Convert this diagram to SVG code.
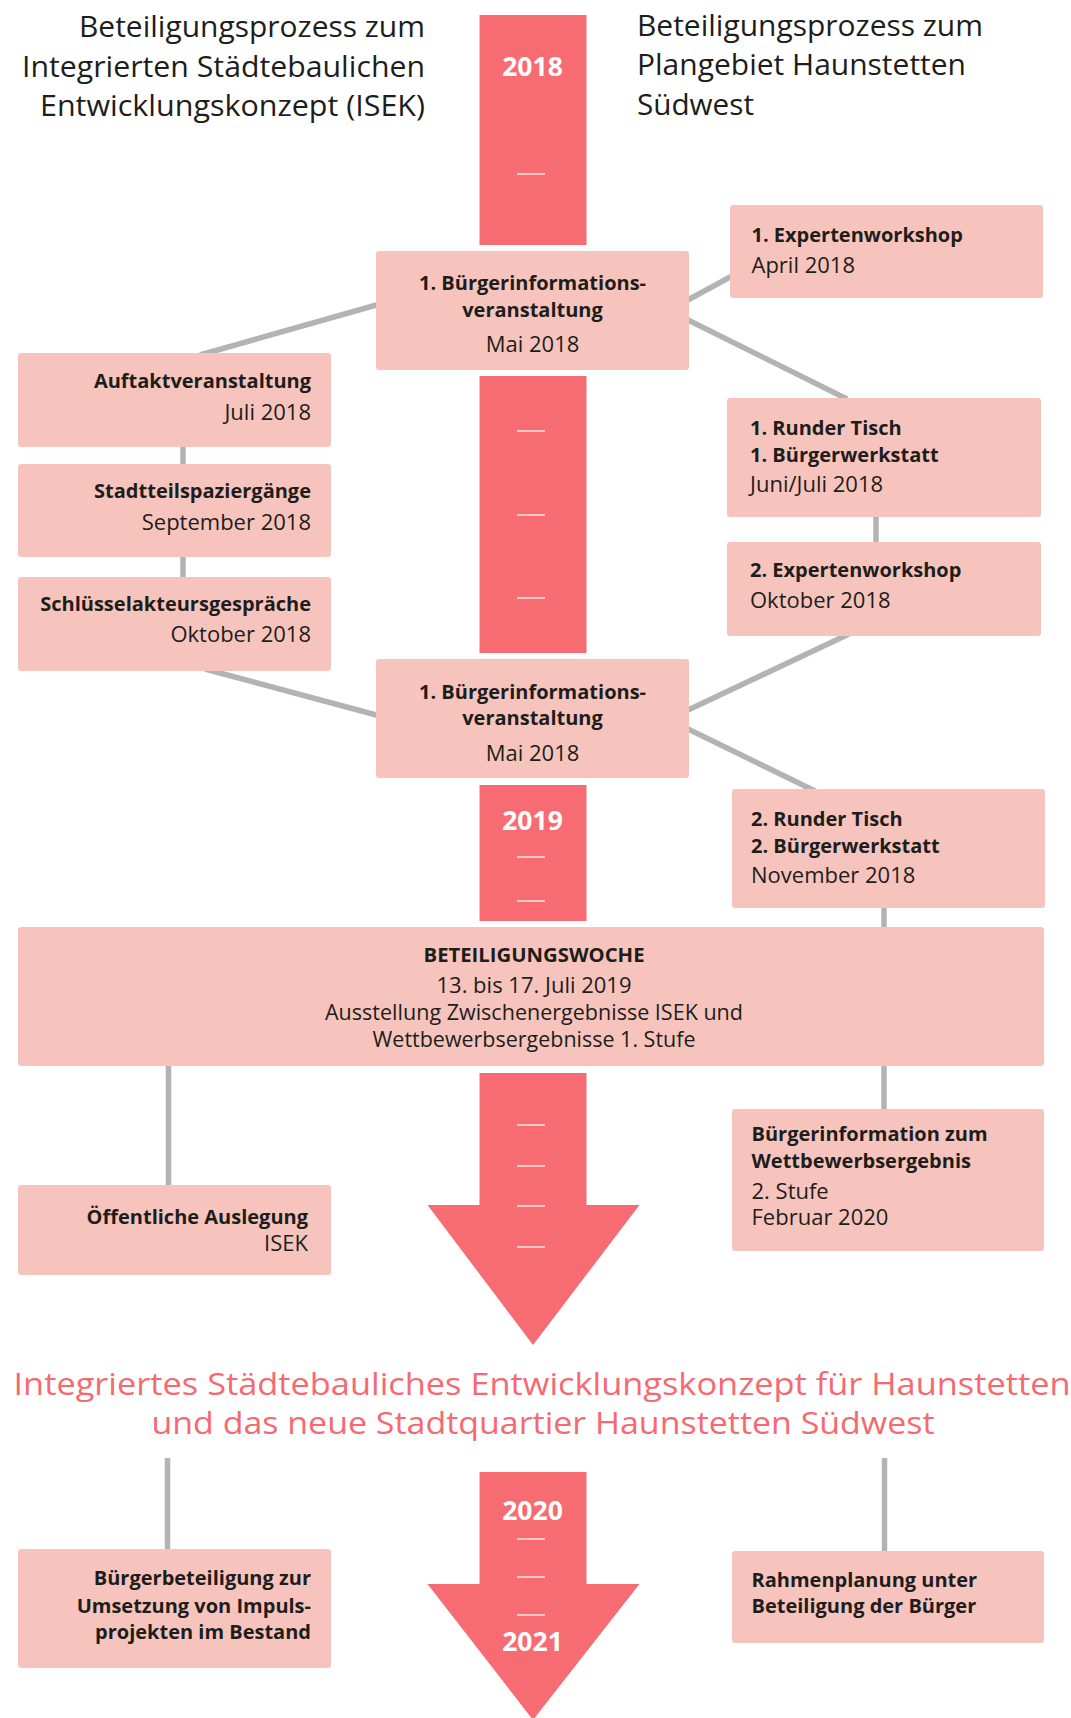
<svg xmlns="http://www.w3.org/2000/svg" width="1071" height="1718" viewBox="0 0 1071 1718">
<style>
.bg{fill:#ffffff}
.box{fill:#F7C4BD}
.bar{fill:#F76C72}
.tick{stroke:#ffffff;stroke-width:1.5;opacity:0.85}
.con{stroke:#B3B3B3;stroke-width:5.5;fill:none}
text{font-family:"Open Sans","Noto Sans","Liberation Sans",sans-serif;fill:#1D1D1B}
.h{font-size:29px}
.b{font-size:20px;font-weight:bold}
.r{font-size:22px}
.yr{font-size:26.5px;font-weight:bold;fill:#ffffff}
.t{font-size:31px;fill:#F56A70}
.m{text-anchor:middle}
.e{text-anchor:end}
</style>
<rect class="bg" x="0" y="0" width="1071" height="1718"/>

<g id="headers">
<text class="h e" x="425" y="37" textLength="346" lengthAdjust="spacingAndGlyphs">Beteiligungsprozess zum</text>
<text class="h e" x="425" y="77" textLength="403" lengthAdjust="spacingAndGlyphs">Integrierten Städtebaulichen</text>
<text class="h e" x="425" y="116" textLength="385" lengthAdjust="spacingAndGlyphs">Entwicklungskonzept (ISEK)</text>
<text class="h" x="637" y="36" textLength="346" lengthAdjust="spacingAndGlyphs">Beteiligungsprozess zum</text>
<text class="h" x="637" y="75" textLength="329" lengthAdjust="spacingAndGlyphs">Plangebiet Haunstetten</text>
<text class="h" x="637" y="115" textLength="117" lengthAdjust="spacingAndGlyphs">Südwest</text>
</g>

<g id="timeline">
<rect class="bar" x="479.5" y="15" width="107" height="230"/>
<text class="yr m" x="532.5" y="76">2018</text>
<line class="tick" x1="517" y1="174" x2="545" y2="174"/>
<rect class="bar" x="479.5" y="376" width="107" height="277"/>
<line class="tick" x1="517" y1="431" x2="545" y2="431"/>
<line class="tick" x1="517" y1="515" x2="545" y2="515"/>
<line class="tick" x1="517" y1="598" x2="545" y2="598"/>
<rect class="bar" x="479.5" y="785" width="107" height="136"/>
<text class="yr m" x="532.5" y="830">2019</text>
<line class="tick" x1="517" y1="857" x2="545" y2="857"/>
<line class="tick" x1="517" y1="901" x2="545" y2="901"/>
<polygon class="bar" points="479.5,1073 586.5,1073 586.5,1205 639.5,1205 533,1345 427.5,1205 479.5,1205"/>
<line class="tick" x1="517" y1="1125" x2="545" y2="1125"/>
<line class="tick" x1="517" y1="1166" x2="545" y2="1166"/>
<line class="tick" x1="517" y1="1206" x2="545" y2="1206"/>
<line class="tick" x1="517" y1="1247" x2="545" y2="1247"/>
<polygon class="bar" points="479.5,1472 586.5,1472 586.5,1584 639.5,1584 533,1720 427.5,1584 479.5,1584"/>
<text class="yr m" x="532.5" y="1520">2020</text>
<line class="tick" x1="517" y1="1539" x2="545" y2="1539"/>
<line class="tick" x1="517" y1="1577" x2="545" y2="1577"/>
<line class="tick" x1="517" y1="1615" x2="545" y2="1615"/>
<text class="yr m" x="532.5" y="1651">2021</text>
</g>

<g id="connectors">
<line class="con" x1="380" y1="304" x2="200" y2="355"/>
<line class="con" x1="686" y1="301" x2="732" y2="276"/>
<line class="con" x1="686" y1="319" x2="847" y2="399"/>
<line class="con" x1="183" y1="445" x2="183" y2="466"/>
<line class="con" x1="183" y1="555" x2="183" y2="579"/>
<line class="con" x1="205" y1="669" x2="380" y2="716"/>
<line class="con" x1="876" y1="515" x2="876" y2="544"/>
<line class="con" x1="849" y1="634" x2="686" y2="711"/>
<line class="con" x1="686" y1="728" x2="815" y2="791"/>
<line class="con" x1="884" y1="906" x2="884" y2="929"/>
<line class="con" x1="884" y1="1064" x2="884" y2="1111"/>
<line class="con" x1="168.5" y1="1064" x2="168.5" y2="1187"/>
<line class="con" x1="167.5" y1="1458" x2="167.5" y2="1551"/>
<line class="con" x1="884.5" y1="1458" x2="884.5" y2="1553"/>
</g>

<g id="buergerinfo1">
<rect class="box" x="376" y="251" width="313" height="119" rx="3"/>
<text class="b m" x="532.5" y="290">1. Bürgerinformations-</text>
<text class="b m" x="532.5" y="317">veranstaltung</text>
<text class="r m" x="532.5" y="352">Mai 2018</text>
</g>
<g id="expertenworkshop1">
<rect class="box" x="730" y="205" width="313" height="93" rx="3"/>
<text class="b" x="751.5" y="242">1. Expertenworkshop</text>
<text class="r" x="751.5" y="273">April 2018</text>
</g>
<g id="auftakt">
<rect class="box" x="18" y="353" width="313" height="94" rx="3"/>
<text class="b e" x="311" y="388">Auftaktveranstaltung</text>
<text class="r e" x="311" y="420">Juli 2018</text>
</g>
<g id="stadtteil">
<rect class="box" x="18" y="464" width="313" height="93" rx="3"/>
<text class="b e" x="311" y="498">Stadtteilspaziergänge</text>
<text class="r e" x="311" y="530">September 2018</text>
</g>
<g id="schluessel">
<rect class="box" x="18" y="577" width="313" height="94" rx="3"/>
<text class="b e" x="311" y="611">Schlüsselakteursgespräche</text>
<text class="r e" x="311" y="642">Oktober 2018</text>
</g>
<g id="rundertisch1">
<rect class="box" x="727" y="398" width="314" height="119" rx="3"/>
<text class="b" x="750" y="435">1. Runder Tisch</text>
<text class="b" x="750" y="462">1. Bürgerwerkstatt</text>
<text class="r" x="750" y="492">Juni/Juli 2018</text>
</g>
<g id="expertenworkshop2">
<rect class="box" x="727" y="542" width="314" height="94" rx="3"/>
<text class="b" x="750" y="577">2. Expertenworkshop</text>
<text class="r" x="750" y="608">Oktober 2018</text>
</g>
<g id="buergerinfo2">
<rect class="box" x="376" y="659" width="313" height="119" rx="3"/>
<text class="b m" x="532.5" y="699">1. Bürgerinformations-</text>
<text class="b m" x="532.5" y="725">veranstaltung</text>
<text class="r m" x="532.5" y="761">Mai 2018</text>
</g>
<g id="rundertisch2">
<rect class="box" x="732" y="789" width="313" height="119" rx="3"/>
<text class="b" x="751" y="826">2. Runder Tisch</text>
<text class="b" x="751" y="853">2. Bürgerwerkstatt</text>
<text class="r" x="751" y="883">November 2018</text>
</g>
<g id="beteiligungswoche">
<rect class="box" x="18" y="927" width="1026" height="139" rx="3"/>
<text class="b m" x="534" y="962" textLength="221" lengthAdjust="spacingAndGlyphs">BETEILIGUNGSWOCHE</text>
<text class="r m" x="534" y="993">13. bis 17. Juli 2019</text>
<text class="r m" x="534" y="1020" textLength="418" lengthAdjust="spacingAndGlyphs">Ausstellung Zwischenergebnisse ISEK und</text>
<text class="r m" x="534" y="1047" textLength="323" lengthAdjust="spacingAndGlyphs">Wettbewerbsergebnisse 1. Stufe</text>
</g>
<g id="auslegung">
<rect class="box" x="18" y="1185" width="313" height="90" rx="3"/>
<text class="b e" x="308" y="1224">Öffentliche Auslegung</text>
<text class="r e" x="308" y="1251">ISEK</text>
</g>
<g id="wettbewerb">
<rect class="box" x="732" y="1109" width="312" height="142" rx="3"/>
<text class="b" x="751.5" y="1141">Bürgerinformation zum</text>
<text class="b" x="751.5" y="1168">Wettbewerbsergebnis</text>
<text class="r" x="751.5" y="1199">2. Stufe</text>
<text class="r" x="751.5" y="1225">Februar 2020</text>
</g>
<g id="ergebnis">
<text class="t m" x="542" y="1395" textLength="1057" lengthAdjust="spacingAndGlyphs">Integriertes Städtebauliches Entwicklungskonzept für Haunstetten</text>
<text class="t m" x="543" y="1434" textLength="783" lengthAdjust="spacingAndGlyphs">und das neue Stadtquartier Haunstetten Südwest</text>
</g>
<g id="impulsprojekte">
<rect class="box" x="18" y="1549" width="313" height="119" rx="3"/>
<text class="b e" x="311" y="1585">Bürgerbeteiligung zur</text>
<text class="b e" x="311" y="1613">Umsetzung von Impuls-</text>
<text class="b e" x="311" y="1639">projekten im Bestand</text>
</g>
<g id="rahmenplanung">
<rect class="box" x="732" y="1551" width="312" height="92" rx="3"/>
<text class="b" x="751.5" y="1587">Rahmenplanung unter</text>
<text class="b" x="751.5" y="1613">Beteiligung der Bürger</text>
</g>
</svg>
